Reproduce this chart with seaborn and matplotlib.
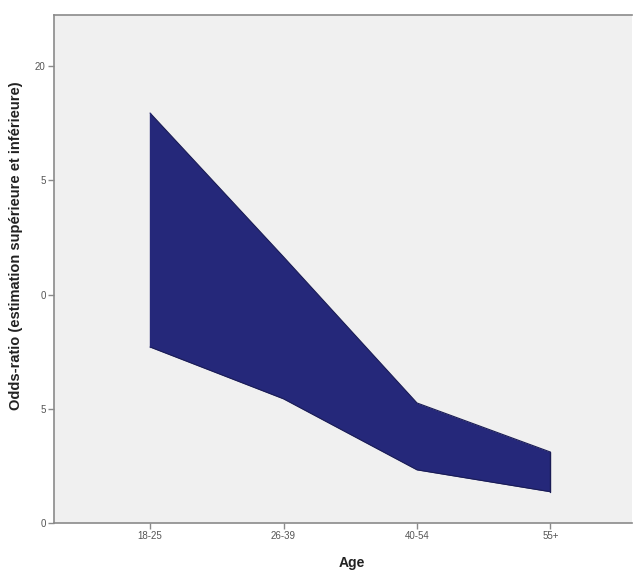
import matplotlib
matplotlib.use("Agg")
import matplotlib.pyplot as plt
import numpy as np
import pandas as pd
import seaborn as sns

# Odds-ratio bounds by age group
ages = ["18-25", "26-39", "40-54", "55+"]
upper = [17.95, 11.65, 5.25, 3.1]
lower = [7.7, 5.43, 2.32, 1.36]
ytick_vals = [0, 5, 10, 15, 20]
ytick_text = ["0", "5", "0", "5", "20"]

df = pd.DataFrame({"Age": ages, "upper": upper, "lower": lower})

sns.set_style("white")
plt.rcParams["font.family"] = ["Liberation Sans", "DejaVu Sans"]

fig = plt.figure(figsize=(6.35, 5.72), dpi=100)
ax = fig.add_axes([0.085, 0.086, 0.91, 0.888])
ax.set_facecolor("#f0f0f0")

navy = "#25287a"
sns.lineplot(data=df, x="Age", y="upper", ax=ax, color="#1a1c55", lw=0.8, sort=False)
sns.lineplot(data=df, x="Age", y="lower", ax=ax, color="#1a1c55", lw=0.8, sort=False)
pos = np.arange(len(ages))
ax.fill_between(pos, df["lower"], df["upper"], color=navy, lw=0)
ax.plot([pos[0], pos[0]], [lower[0], upper[0]], color=navy, lw=1)
ax.plot([pos[-1], pos[-1]], [lower[-1], upper[-1]], color="#1a1c55", lw=1)

ax.set_xlim(-0.72, 3.61)
ax.set_ylim(0, 22.25)
ax.set_yticks(ytick_vals)
ax.set_yticklabels(ytick_text)

for side in ["left", "bottom", "top"]:
    ax.spines[side].set_color("#8a8a8a")
    ax.spines[side].set_linewidth(1.2)
ax.spines["right"].set_visible(False)

ax.tick_params(axis="both", length=4, width=1, color="#8a8a8a",
               labelsize=7, labelcolor="#555555", direction="out", pad=2)
ax.tick_params(axis="x", bottom=True)
ax.tick_params(axis="y", left=True)

ax.set_xlabel("Age", fontsize=10, fontweight="bold", color="#222222")
ax.set_ylabel("Odds-ratio (estimation supérieure et inférieure)", fontsize=10.5,
              fontweight="bold", color="#222222")
ax.xaxis.set_label_coords(0.516, -0.066)
ax.yaxis.set_label_coords(-0.053, 0.545)

fig.savefig("out.png", dpi=100)
